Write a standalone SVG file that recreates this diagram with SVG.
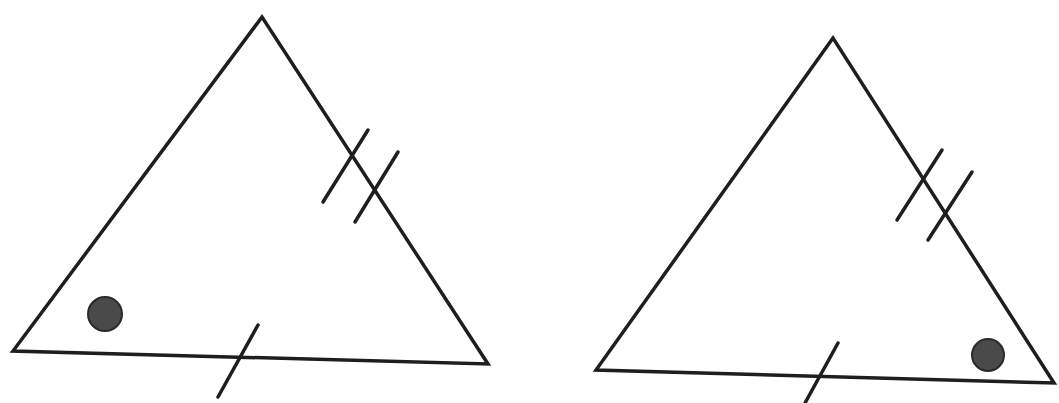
<svg xmlns="http://www.w3.org/2000/svg" width="1059" height="403" viewBox="0 0 1059 403">
<style>
.edge{fill:none;stroke:#1e1e1e;stroke-width:3.5;stroke-linejoin:miter;stroke-linecap:round}
.tick{stroke:#1e1e1e;stroke-width:3.5;stroke-linecap:round}
.dot{fill:#4a4a4a;stroke:#2a2a2a;stroke-width:2}
</style>
<rect width="1059" height="403" fill="#ffffff"/>
<g id="triangle-left">
<polygon class="edge" points="262,17 13,351 488,364"/>
<line class="tick" x1="323" y1="202" x2="368" y2="130"/>
<line class="tick" x1="355" y1="222" x2="398" y2="152"/>
<line class="tick" x1="218" y1="397" x2="258" y2="325"/>
<circle class="dot" cx="105" cy="314" r="17"/>
</g>
<g id="triangle-right">
<polygon class="edge" points="833,38 596,370 1054,383"/>
<line class="tick" x1="897" y1="220" x2="942" y2="150"/>
<line class="tick" x1="928" y1="240" x2="972" y2="172"/>
<line class="tick" x1="805" y1="403" x2="838" y2="343"/>
<circle class="dot" cx="988" cy="355" r="16"/>
</g>
</svg>
